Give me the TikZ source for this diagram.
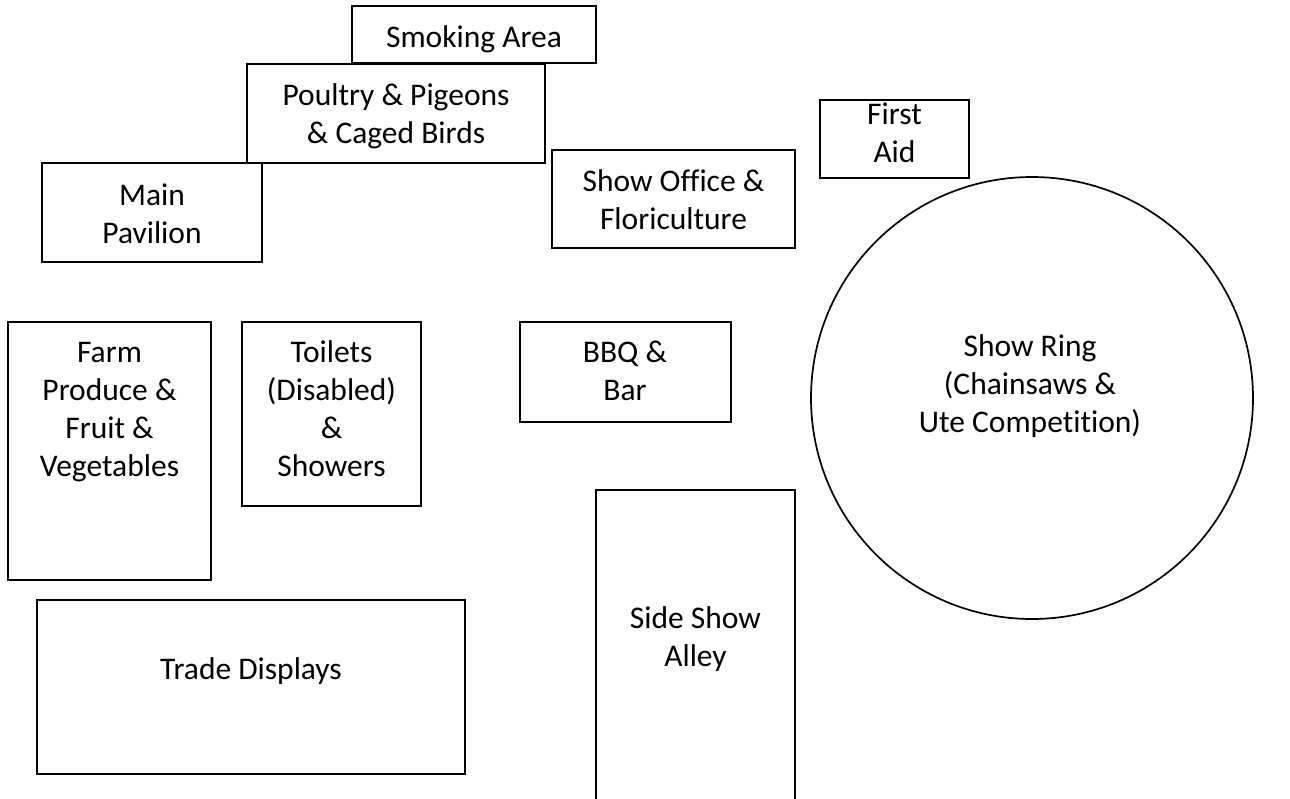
\documentclass[tikz,border=0pt]{standalone}
\usepackage{fontspec}
\setmainfont{Carlito}[Ligatures={NoCommon}]
\begin{document}
\begin{tikzpicture}[x=1pt,y=-1pt,
  box/.style={draw=black, line width=2pt, rectangle, inner sep=0pt},
  ring/.style={draw=black, line width=1.7pt, circle, inner sep=0pt},
  lbl/.style={anchor=north, align=center, inner sep=0pt,
    font=\fontsize{31.5}{38}\selectfont}]
\useasboundingbox (0,0) rectangle (1290,798);
\clip (0,0) rectangle (1290,798);
\fill[white] (0,0) rectangle (1290,798);
% areas
\node[box, minimum width=244pt, minimum height=57pt] (smoke) at (474,34.5) {};
\node[box, minimum width=298pt, minimum height=99pt] (poultry) at (396,113.5) {};
\node[box, minimum width=220pt, minimum height=99pt] (main) at (152,212.5) {};
\node[box, minimum width=243pt, minimum height=98pt] (office) at (673.5,199) {};
\node[box, minimum width=149pt, minimum height=78pt] (aid) at (894.5,139) {};
\node[box, minimum width=203pt, minimum height=258pt] (farm) at (109.5,451) {};
\node[box, minimum width=179pt, minimum height=184pt] (toilets) at (331.5,414) {};
\node[box, minimum width=211pt, minimum height=100pt] (bbq) at (625.5,372) {};
\node[box, line width=1.6pt, minimum width=428pt, minimum height=174pt] (trade) at (251,687) {};
\node[box, minimum width=199pt, minimum height=340pt] (side) at (695.5,660) {};
\node[ring, minimum size=442pt] (ring) at (1032,398) {};
% labels
\node[lbl] (tsmoke) at (474,20.4) {\strut Smoking Area};
\node[lbl] (tpoultry) at (396,78.4) {\strut Poultry \& Pigeons\\\& Caged Birds};
\node[lbl] (tmain) at (152,178.4) {\strut Main\\Pavilion};
\node[lbl] (toffice) at (673.5,164.4) {\strut Show Office \&\\Floriculture};
\node[lbl] (taid) at (894.5,97.4) {\strut First\\Aid};
\node[lbl] (tring) at (1030,330) {\strut Show Ring\\(Chainsaws \&\\Ute Compet\kern0pt i\kern0pt t\kern0pt ion)};
\node[lbl] (tfarm) at (109.5,336) {\strut Farm\\Produce \&\\Fruit \&\\Vegetables};
\node[lbl] (ttoilets) at (331.5,336) {\strut Toilets\\(Disabled)\\\&\\Showers};
\node[lbl] (tbbq) at (625,336) {\strut BBQ \&\\Bar};
\node[lbl] (tside) at (695.5,601.4) {\strut Side Show\\Alley};
\node[lbl] (ttrade) at (251,652.4) {\strut Trade Displays};
\end{tikzpicture}
\end{document}
